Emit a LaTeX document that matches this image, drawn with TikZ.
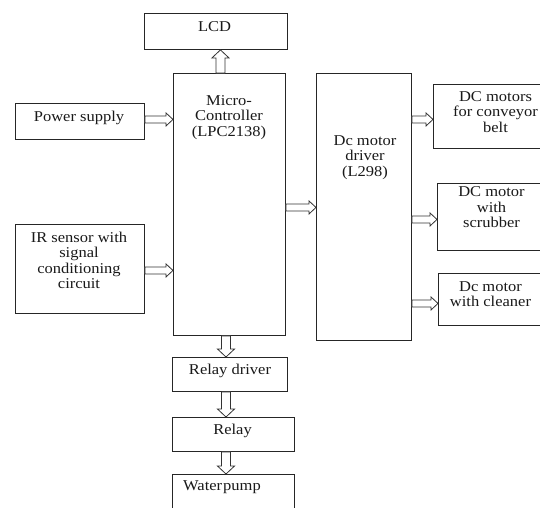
\documentclass[tikz,border=0pt]{standalone}
\usepackage{fontspec}
\setmainfont[FakeStretch=1.1]{Liberation Serif}
\usetikzlibrary{calc}
\tikzset{
  box/.style={draw=black!85, line width=0.9pt, inner sep=0pt, anchor=north west},
  txt/.style={align=center, anchor=base, inner sep=0pt, text=black!90, font=\fontsize{15}{15.5}\selectfont},
  arr/.style={draw=black!80, line width=0.8pt, fill=white, line join=miter},
}
% block arrow: #1 start, #2 end, #3 shaft half width, #4 head half width, #5 head length
\newcommand\blockarrow[5]{%
  \coordinate (ba-s) at (#1);
  \coordinate (ba-e) at (#2);
  \coordinate (ba-h) at ($(ba-e)!#5!(ba-s)$);
  \draw[arr] ($(ba-s)!#3!90:(ba-e)$) -- ($(ba-h)!#3!-90:(ba-s)$) -- ($(ba-h)!#4!-90:(ba-s)$)
    -- (ba-e) -- ($(ba-h)!#4!90:(ba-s)$) -- ($(ba-h)!#3!90:(ba-s)$) -- ($(ba-s)!#3!-90:(ba-e)$) -- cycle;}
\begin{document}
\begin{tikzpicture}[x=1pt,y=-1pt]
\useasboundingbox (0,0) rectangle (540,507);
\fill[white] (0,0) rectangle (540,507);
\clip (0,0) rectangle (540,507);
% boxes
\node[box, minimum width=143pt, minimum height=36pt] (lcd) at (144,13) {};
\node[box, minimum width=112pt, minimum height=262pt] (mc) at (173,73) {};
\node[box, minimum width=129pt, minimum height=36pt] (ps) at (15,103) {};
\node[box, minimum width=129pt, minimum height=89pt] (ir) at (15,224) {};
\node[box, minimum width=95pt, minimum height=267pt] (drv) at (316,73) {};
\node[box, minimum width=125pt, minimum height=64pt] (conv) at (433,84) {};
\node[box, minimum width=120pt, minimum height=67pt] (scr) at (437,183) {};
\node[box, minimum width=120pt, minimum height=52pt] (cln) at (438,273) {};
\node[box, minimum width=115pt, minimum height=34pt] (rd) at (172,357) {};
\node[box, minimum width=122pt, minimum height=34pt] (rel) at (172,417) {};
\node[box, minimum width=122pt, minimum height=50pt] (wp) at (172,474) {};
% texts (anchor = baseline of the last line)
\node[txt] (tlcd) at (214.5,31) {LCD};
\node[txt] (tmc) at (229,136) {Micro-\\Controller\\(LPC2138)};
\node[txt] (tps) at (79,121) {Power supply};
\node[txt] (tir) at (79,288.5) {IR sensor with\\signal\\conditioning\\circuit};
\node[txt] (tdrv) at (365,176) {Dc motor\\driver\\(L298)};
\node[txt] (tconv) at (495.5,132) {DC motors\\for conveyor\\belt};
\node[txt] (tscr) at (491.5,227.5) {DC motor\\with\\scrubber};
\node[txt] (tcln) at (490.5,306.5) {Dc motor\\with cleaner};
\node[txt] (trd) at (230,374) {Relay driver};
\node[txt] (trel) at (232.5,434) {Relay};
\node[txt, anchor=base west] (twp) at (183,490) {Water\kern1pt pump};
% arrow anchor coordinates
\coordinate (aps) at ([yshift=2pt]ps.east);
\coordinate (air) at ([yshift=-1.5pt]ir.east);
\coordinate (amc) at ([yshift=-3pt]mc.east);
\coordinate (aconv) at ([yshift=-3pt]conv.west);
\coordinate (ascr) at ([yshift=-2.5pt]scr.west);
\coordinate (acln) at ([yshift=-4pt]cln.west);
\coordinate (alcd) at ([xshift=-9pt]mc.north);
\coordinate (vx) at (226,0);
% arrows
\blockarrow{aps}{aps -| mc.west}{3.5pt}{6.5pt}{7pt}
\blockarrow{air}{air -| mc.west}{3.5pt}{6.5pt}{7pt}
\blockarrow{amc}{amc -| drv.west}{3.5pt}{6.5pt}{7pt}
\blockarrow{aconv -| drv.east}{aconv}{3.5pt}{6.5pt}{7pt}
\blockarrow{ascr -| drv.east}{ascr}{3.5pt}{6.5pt}{7pt}
\blockarrow{acln -| drv.east}{acln}{3.5pt}{6.5pt}{7pt}
\blockarrow{alcd}{alcd |- lcd.south}{4.5pt}{8.5pt}{8pt}
\blockarrow{vx |- mc.south}{vx |- rd.north}{4.5pt}{8.5pt}{8pt}
\blockarrow{vx |- rd.south}{vx |- rel.north}{4.5pt}{8.5pt}{8pt}
\blockarrow{vx |- rel.south}{vx |- wp.north}{4.5pt}{8.5pt}{8pt}
\end{tikzpicture}
\end{document}
